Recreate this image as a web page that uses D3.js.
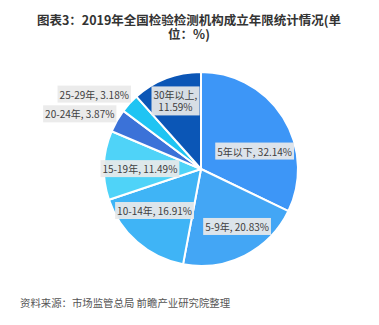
<!DOCTYPE html>
<html>
<head>
<meta charset="utf-8">
<script src="https://cdn.jsdelivr.net/npm/d3@7"></script>
<style>
  html, body { margin: 0; padding: 0; background: #fff; }
  svg { display: block; }
</style>
</head>
<body>
<svg id="chart" width="379" height="325"></svg>
<script>
// Establishment age of national inspection & testing institutions, 2019 (%)
const categories = ["5年以下", "5-9年", "10-14年", "15-19年", "20-24年", "25-29年", "30年以上"];
const shares = [32.14, 20.83, 16.91, 11.49, 3.87, 3.18, 11.59];
const sliceColors = ["#3d96f7", "#43a6f5", "#3fb4f6", "#4fd3f8", "#3b72d8", "#1fc4f3", "#0b56b6"];
const labelLines = [
  ["5年以下, 32.14%"],
  ["5-9年, 20.83%"],
  ["10-14年, 16.91%"],
  ["15-19年, 11.49%"],
  ["20-24年, 3.87%"],
  ["25-29年, 3.18%"],
  ["30年以上,", "11.59%"]
];
const titleLines = ["图表3：2019年全国检验检测机构成立年限统计情况(单", "位：%)"];
const sourceNote = "资料来源：市场监管总局 前瞻产业研究院整理";

const svg = d3.select("#chart");
const cx = 201, cy = 169, R = 97;
const FONT = "'Noto Sans CJK SC', sans-serif";

// title, two lines
svg.selectAll("text.title")
  .data(titleLines)
  .join("text")
  .attr("class", "title")
  .attr("x", 189)
  .attr("y", (d, i) => 25 + i * 14)
  .attr("text-anchor", "middle")
  .attr("font-family", FONT)
  .attr("font-size", 12.5)
  .attr("font-weight", "bold")
  .attr("fill", "#333")
  .text(d => d);

const data = categories.map((c, i) => ({ cat: c, value: shares[i], lines: labelLines[i], color: sliceColors[i] }));

const pie = d3.pie().value(d => d.value).sort(null);
const arcs = pie(data);
const arc = d3.arc().innerRadius(0).outerRadius(R);

const g = svg.append("g").attr("transform", `translate(${cx},${cy})`);
g.selectAll("path.slice")
  .data(arcs)
  .join("path")
  .attr("class", "slice")
  .attr("d", arc)
  .attr("fill", d => d.data.color)
  .attr("stroke", "#fff")
  .attr("stroke-width", 2)
  .attr("stroke-linejoin", "round");

// label anchor: distance along the slice bisector (fraction of R) plus a nudge
const labelRadius = [0.58, 0.71, 0.65, 0.63, 1.37, 1.34, 0.74];
const labelNudge = [[6, 13], [5, -3], [-5, -5], [0, 3], [-6, 12], [-11, 14], [0, 0]];

const lab = g.selectAll("g.lab")
  .data(arcs)
  .join("g")
  .attr("class", "lab")
  .attr("transform", (d, i) => {
    const a = (d.startAngle + d.endAngle) / 2;
    const r = R * labelRadius[i];
    return `translate(${Math.sin(a) * r + labelNudge[i][0]},${-Math.cos(a) * r + labelNudge[i][1]})`;
  });

lab.each(function(d) {
  const sel = d3.select(this);
  const lines = d.data.lines;
  const lh = 12;
  const bg = sel.append("rect").attr("fill", "#e9e9e9").attr("fill-opacity", 0.92);
  const t = sel.append("text")
    .attr("text-anchor", "middle")
    .attr("font-family", FONT)
    .attr("font-size", 10)
    .attr("fill", "#404040");
  lines.forEach((ln, k) => {
    t.append("tspan")
      .attr("x", 0)
      .attr("y", (k - (lines.length - 1) / 2) * lh + 3.5)
      .text(ln);
  });
  const bb = t.node().getBBox();
  bg.attr("x", bb.x - 2).attr("y", bb.y - 1).attr("width", bb.width + 4).attr("height", bb.height + 2);
});

// source note
svg.append("text")
  .attr("x", 20).attr("y", 307)
  .attr("font-family", FONT)
  .attr("font-size", 10.4)
  .attr("fill", "#555")
  .text(sourceNote);
</script>
</body>
</html>
